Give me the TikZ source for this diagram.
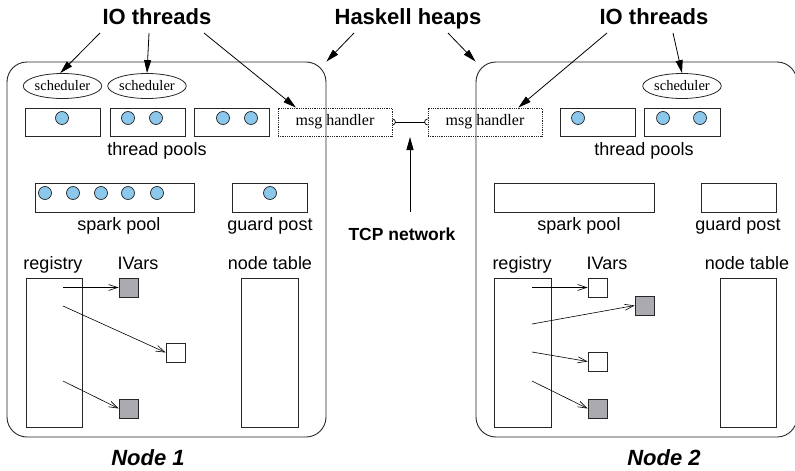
\documentclass[tikz,border=0pt]{standalone}
\usepackage{fontspec}
\setmainfont{Liberation Serif}
\setsansfont{Liberation Sans}
\usetikzlibrary{shapes.geometric,arrows.meta,calc}
\definecolor{ivgray}{RGB}{170,170,176}
\definecolor{tblue}{RGB}{140,200,235}
\begin{document}
\begin{tikzpicture}[x=1pt,y=-1pt,
  frame/.style={draw=black!85,line width=0.9pt,rounded corners=20pt,inner sep=0pt},
  pool/.style={draw=black!85,line width=0.8pt,inner sep=0pt,minimum height=28pt},
  sched/.style={draw=black!85,ellipse,line width=0.8pt,inner sep=0pt,minimum width=75pt,minimum height=25pt,font=\fontsize{14.5}{16}\selectfont},
  msgbox/.style={draw=black!85,densely dotted,line width=0.8pt,inner sep=0pt,minimum width=114pt,minimum height=28pt,font=\fontsize{16}{18}\selectfont},
  thr/.style={circle,draw=black!85,fill=tblue,line width=0.7pt,inner sep=0pt,minimum size=13pt},
  ivar/.style={draw=black!85,line width=0.8pt,inner sep=0pt,minimum size=19pt},
  lbl/.style={font=\sffamily\fontsize{18}{20}\selectfont,inner sep=0pt,text height=13pt,text depth=4pt},
  title/.style={font=\sffamily\bfseries\fontsize{22}{24}\selectfont,inner sep=0pt,text height=16pt,text depth=5pt},
  tarrow/.style={-{Triangle[length=13pt,width=7pt]},line width=0.8pt},
  rarrow/.style={-{Straight Barb[length=9pt,width=6pt]},line width=0.6pt},
]
\useasboundingbox (0,0) rectangle (795,471);

% frames
\node[frame,minimum width=319pt,minimum height=375pt] (n1) at (166.5,249.5) {};
\node[frame,minimum width=321pt,minimum height=375pt] (n2) at (636.5,249.5) {};

% ---------- Node 1 ----------
\node[sched] (s1) at (62.5,86) {scheduler};
\node[sched] (s2) at (147,86) {scheduler};
\node[pool,minimum width=75pt] (tp1) at (62.5,122) {};
\node[pool,minimum width=75pt] (tp2) at (147.5,122) {};
\node[pool,minimum width=75pt] (tp3) at (231.5,122) {};
\node[thr] (c11) at (62,118) {};
\node[thr] (c21) at (128,118) {};
\node[thr] (c22) at (156,118) {};
\node[thr] (c31) at (223,118) {};
\node[thr] (c32) at (251,118) {};
\node[msgbox] (m1) at (335,122) {msg handler};
\node[lbl] (tpl1) at (157,151) {thread pools};

\node[pool,minimum width=159pt,minimum height=29pt] (sp1) at (114.5,197.5) {};
\foreach \x [count=\i] in {45,73,101,128,157} \node[thr] (sc\i) at (\x,193) {};
\node[pool,minimum width=75pt,minimum height=29pt] (gp1) at (269.5,197.5) {};
\node[thr] (gc1) at (270,193) {};
\node[lbl] (spl1) at (119,226) {spark pool};
\node[lbl] (gpl1) at (270,226) {guard post};

\node[lbl] (rl1) at (53,265) {registry};
\node[lbl] (il1) at (138,265) {IVars};
\node[lbl] (ntl1) at (270,265) {node table};
\node[pool,minimum width=56pt,minimum height=149pt] (r1) at (54,352.5) {};
\node[pool,minimum width=57pt,minimum height=149pt] (nt1) at (269.5,352.5) {};
\node[ivar,fill=ivgray] (v11) at (128.5,287.5) {};
\node[ivar,fill=white] (v12) at (175.5,352.5) {};
\node[ivar,fill=ivgray] (v13) at (128.5,408.5) {};
\coordinate (ra1) at (63,287.5);
\coordinate (ra2) at (63,306);
\coordinate (ra3) at (63,381);
\draw[rarrow] (ra1) -- (v11.west);
\draw[rarrow] (ra2) -- (v12.west);
\draw[rarrow] (ra3) -- (v13.west);

% ---------- Node 2 ----------
\node[sched] (s3) at (682,86) {scheduler};
\node[msgbox] (m2) at (485,122) {msg handler};
\node[pool,minimum width=75pt] (tp4) at (597.5,122) {};
\node[pool,minimum width=76pt] (tp5) at (682,122) {};
\node[thr] (c41) at (578,118) {};
\node[thr] (c51) at (663,118) {};
\node[thr] (c52) at (700,118) {};
\node[lbl] (tpl2) at (644,151) {thread pools};

\node[pool,minimum width=160pt,minimum height=29pt] (sp2) at (574,197.5) {};
\node[pool,minimum width=75pt,minimum height=29pt] (gp2) at (738.5,197.5) {};
\node[lbl] (spl2) at (579,226) {spark pool};
\node[lbl] (gpl2) at (738,226) {guard post};

\node[lbl] (rl2) at (522,265) {registry};
\node[lbl] (il2) at (607,265) {IVars};
\node[lbl] (ntl2) at (747,265) {node table};
\node[pool,minimum width=57pt,minimum height=149pt] (r2) at (522.5,352.5) {};
\node[pool,minimum width=56pt,minimum height=149pt] (nt2) at (748,352.5) {};
\node[ivar,fill=white] (v21) at (597.5,287.5) {};
\node[ivar,fill=ivgray] (v22) at (644.5,305.5) {};
\node[ivar,fill=white] (v23) at (597.5,361.5) {};
\node[ivar,fill=ivgray] (v24) at (597.5,408.5) {};
\coordinate (rb1) at (532,287.5);
\coordinate (rb2) at (532,324);
\coordinate (rb3) at (532,352);
\coordinate (rb4) at (532,381);
\draw[rarrow] (rb1) -- (v21.west);
\draw[rarrow] (rb2) -- (v22.west);
\draw[rarrow] (rb3) -- (v23.west);
\draw[rarrow] (rb4) -- (v24.west);

% ---------- TCP connection ----------
\draw[line width=0.7pt] (m1.east) ++(0,-3) arc[start angle=90,end angle=-90,radius=3pt];
\draw[line width=0.7pt] (m2.west) ++(0,-3) arc[start angle=90,end angle=270,radius=3pt];
\draw[line width=0.8pt] ([xshift=3pt]m1.east) -- ([xshift=-3pt]m2.west);
\coordinate (tcpm) at (410,127);
\coordinate (tcps) at (410,212);

% ---------- titles ----------
\node[title] (io1) at (157,19) {IO threads};
\node[title] (hh) at (408,19) {Haskell heaps};
\node[title] (io2) at (654,19) {IO threads};
\node[font=\sffamily\bfseries\fontsize{17.5}{20}\selectfont,inner sep=0pt] (tcp) at (402,234) {TCP network};
\node[font=\sffamily\bfseries\itshape\fontsize{22}{24}\selectfont,inner sep=0pt] (nl1) at (148,458) {Node 1};
\node[font=\sffamily\bfseries\itshape\fontsize{22}{24}\selectfont,inner sep=0pt] (nl2) at (664,458) {Node 2};

\coordinate (a1) at (100,33);
\coordinate (a2) at (149,33);
\coordinate (a3) at (204,33);
\coordinate (a4) at (354,33);
\coordinate (a5) at (448,33);
\coordinate (a6) at (607,33);
\coordinate (a7) at (673,33);
\draw[tarrow] (a1) -- (s1.100);
\draw[tarrow] (a2) -- (s2.north);
\draw[tarrow] (a3) -- ($(m1.north west)!0.16!(m1.north east)$);
\draw[tarrow] (a4) -- (n1.north east);
\draw[tarrow] (a5) -- (n2.north west);
\draw[tarrow] (a6) -- ($(m2.north west)!0.79!(m2.north east)$);
\draw[tarrow] (a7) -- (s3.north);
\draw[tarrow] (tcps) -- ([yshift=-10pt]tcpm);
\end{tikzpicture}
\end{document}
